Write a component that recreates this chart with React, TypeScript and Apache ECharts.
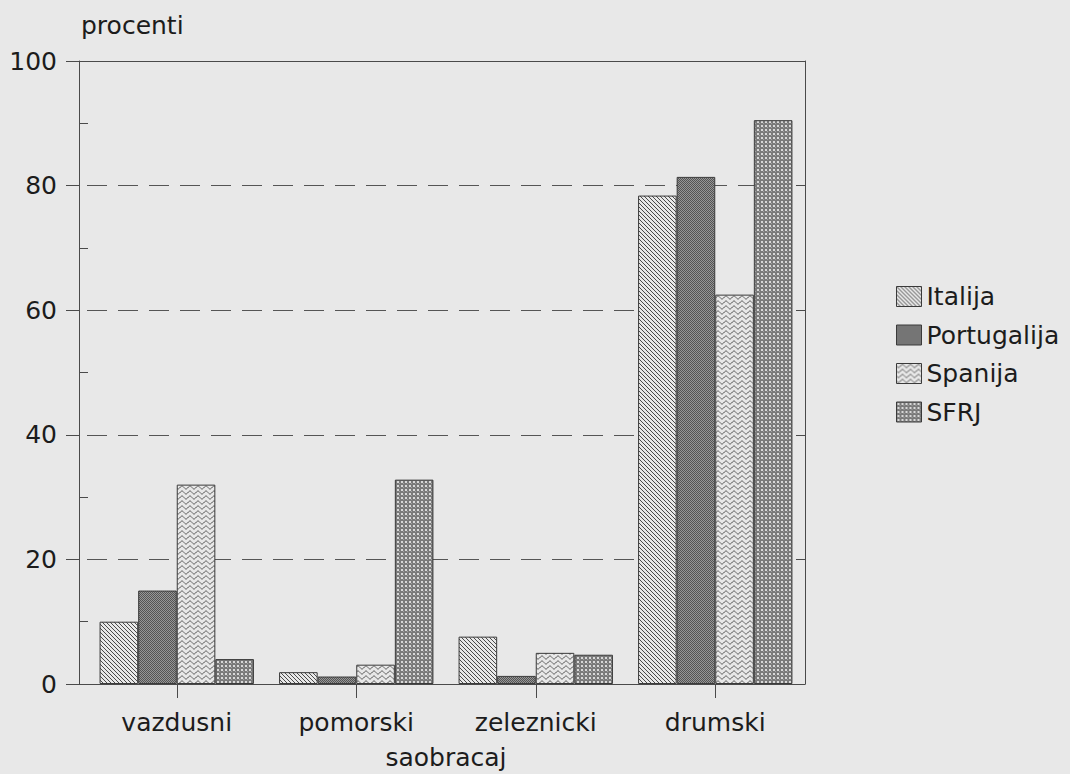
import React, { useEffect, useRef } from 'react';
import * as echarts from 'echarts';

const categories = ['vazdusni', 'pomorski', 'zeleznicki', 'drumski'];
const seriesNames = ['Italija', 'Portugalija', 'Spanija', 'SFRJ'];
const italija = [10, 1.9, 7.6, 78.4];
const portugalija = [15, 1.2, 1.3, 81.4];
const spanija = [32, 3.1, 5.0, 62.5];
const sfrj = [4, 32.8, 4.7, 90.5];
const yMin = 0;
const yMax = 100;
const yInterval = 20;
const xName = 'saobracaj';
const yName = 'procenti';

const BG = '#e8e8e8';
const INK = '#1c1c1c';
const LINE = '#4a4a4a';
const FONT = 'DejaVu Sans';

function makePattern(kind: string) {
  const c = document.createElement('canvas');
  let w = 4;
  let h = 4;
  if (kind === 'wave') {
    w = 8;
    h = 5;
  }
  c.width = w;
  c.height = h;
  const ctx = c.getContext('2d')!;
  ctx.fillStyle = BG;
  ctx.fillRect(0, 0, w, h);
  if (kind === 'hatch') {
    ctx.fillStyle = '#4a4a4a';
    for (let i = 0; i < 4; i++) ctx.fillRect(i, i, 1, 1);
  } else if (kind === 'stipple') {
    for (let y = 0; y < h; y++)
      for (let x = 0; x < w; x++) {
        ctx.fillStyle = (x + y) % 2 === 0 ? '#545454' : '#969696';
        ctx.fillRect(x, y, 1, 1);
      }
  } else if (kind === 'wave') {
    ctx.strokeStyle = '#4a4a4a';
    ctx.lineWidth = 1;
    ctx.beginPath();
    for (let x = 0; x <= w; x += 0.5) {
      const y = 2.5 + 1.5 * Math.sin((2 * Math.PI * x) / w);
      if (x === 0) ctx.moveTo(x, y);
      else ctx.lineTo(x, y);
    }
    ctx.stroke();
  } else if (kind === 'dots') {
    ctx.fillStyle = '#7a7a7a';
    ctx.fillRect(0, 0, w, h);
    ctx.fillStyle = '#d8d8d8';
    ctx.fillRect(1, 1, 2, 2);
    ctx.fillStyle = '#a0a0a0';
    ctx.fillRect(3, 3, 1, 1);
  }
  return { image: c.toDataURL(), repeat: 'repeat', imageWidth: w, imageHeight: h };
}

export default function App() {
  const ref = useRef<HTMLDivElement>(null);
  useEffect(() => {
    if (!ref.current) return;
    const chart = echarts.init(ref.current, null, { renderer: 'svg' });
    const patterns = [makePattern('hatch'), makePattern('stipple'), makePattern('wave'), makePattern('dots')];
    const values = [italija, portugalija, spanija, sfrj];
    const textStyle = { color: INK, fontFamily: FONT, fontSize: 25 };
    chart.setOption({
      animation: false,
      backgroundColor: BG,
      textStyle: { fontFamily: FONT },
      grid: { left: 87, right: 265, top: 61, bottom: 90, containLabel: false, outerBoundsMode: 'none' },
      legend: {
        orient: 'vertical',
        left: 896,
        top: 284,
        itemWidth: 25,
        itemHeight: 20,
        itemGap: 13.5,
        padding: 0,
        icon: 'rect',
        textStyle: { ...textStyle },
        itemStyle: { borderColor: '#3a3a3a', borderWidth: 1 },
        data: seriesNames,
      },
      xAxis: {
        type: 'category',
        data: categories,
        name: xName,
        nameLocation: 'middle',
        nameGap: 61,
        nameTextStyle: { ...textStyle },
        axisLine: { show: true, lineStyle: { color: LINE, width: 1 } },
        axisTick: { show: true, alignWithLabel: true, length: 14, lineStyle: { color: LINE } },
        axisLabel: { ...textStyle, margin: 26 },
        splitLine: { show: false },
      },
      yAxis: [
        {
          type: 'value',
          min: yMin,
          max: yMax,
          interval: yInterval,
          position: 'left',
          offset: 8,
          name: yName,
          nameLocation: 'end',
          nameGap: 23,
          nameTextStyle: { ...textStyle, align: 'left', verticalAlign: 'bottom', padding: [0, 0, 0, 2] },
          axisLine: { show: true, lineStyle: { color: LINE, width: 1 } },
          axisTick: { show: true, inside: false, length: 13, lineStyle: { color: LINE } },
          axisLabel: { ...textStyle, margin: 22 },
          splitLine: { show: true, lineStyle: { color: '#555', type: [20, 11], width: 1 } },
        },
        {
          type: 'value',
          min: yMin,
          max: yMax,
          interval: yInterval,
          position: 'left',
          offset: 8,
          axisLine: { show: false },
          axisTick: { show: false, inside: true },
          minorTick: { show: true, splitNumber: 2, length: 9, lineStyle: { color: LINE } },
          axisLabel: { show: false },
          splitLine: { show: false },
        },
        {
          type: 'value',
          min: yMin,
          max: yMax,
          interval: yInterval,
          position: 'right',
          offset: 0,
          axisLine: { show: true, lineStyle: { color: LINE, width: 1 } },
          axisTick: { show: true, inside: true, length: 9, lineStyle: { color: LINE } },
          axisLabel: { show: false },
          splitLine: { show: false },
        },
      ],
      graphic: [
        {
          type: 'line',
          silent: true,
          z: 100,
          shape: { x1: 79, y1: 61.5, x2: 805, y2: 61.5 },
          style: { stroke: LINE, lineWidth: 1 },
        },
        {
          type: 'line',
          silent: true,
          z: 100,
          shape: { x1: 79, y1: 684.5, x2: 88, y2: 684.5 },
          style: { stroke: LINE, lineWidth: 1 },
        },
      ],
      series: seriesNames.map((name, i) => ({
        type: 'bar',
        name,
        data: values[i],
        yAxisIndex: 0,
        barGap: '0%',
        barCategoryGap: '14%',
        itemStyle: { color: patterns[i], borderColor: '#3a3a3a', borderWidth: 1 },
        emphasis: { disabled: true },
      })),
    });
    return () => chart.dispose();
  }, []);
  return (
    <div
      ref={ref}
      style={{ position: 'absolute', left: 0, top: 0, width: 1070, height: 774 }}
    />
  );
}
